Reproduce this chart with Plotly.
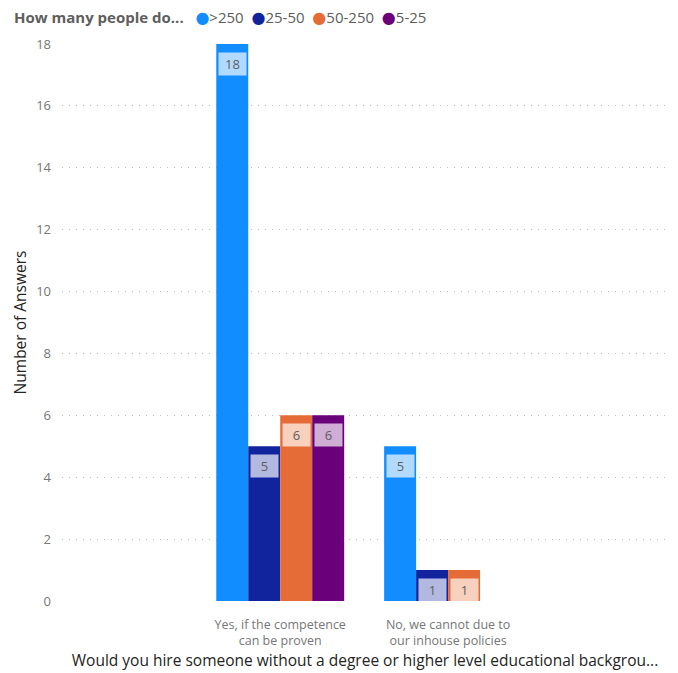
import plotly.graph_objects as go

categories = ["Yes, if the competence<br>can be proven", "No, we cannot due to<br>our inhouse policies"]
series_names = [">250", "25-50", "50-250", "5-25"]
series_values = [
    [18, 5],
    [5, 1],
    [6, 1],
    [6, None],
]
series_colors = ["#118DFF", "#12239E", "#E66C37", "#6B007B"]
y_ticks = [0, 2, 4, 6, 8, 10, 12, 14, 16, 18]
legend_title = "How many people do..."

BARGAP = 0.238
n_series = len(series_names)
bar_w = (1 - BARGAP) / n_series

fig = go.Figure()
for name, vals, col in zip(series_names, series_values, series_colors):
    fig.add_trace(go.Bar(
        x=categories, y=vals, name=name, marker=dict(color=col, line=dict(width=0)),
        showlegend=False, hoverinfo="skip",
    ))

# value labels in translucent boxes at the inner top of each bar
for k, vals in enumerate(series_values):
    for i, v in enumerate(vals):
        if v is None:
            continue
        fig.add_annotation(
            x=i + (k - (n_series - 1) / 2) * bar_w, y=v, xref="x", yref="y",
            text=str(v), showarrow=False, yanchor="top", yshift=-8,
            font=dict(family="Open Sans", size=13, color="#605E5C"),
            bgcolor="rgba(255,255,255,0.68)", borderpad=2, width=23,
        )

# compact legend row: bold title followed by coloured dots and series names
legend_items = "".join(
    f"  <span style='color:{c};font-family:DejaVu Sans;font-size:16px'>●</span>{n}"
    for n, c in zip(series_names, series_colors)
)
fig.add_annotation(
    xref="paper", yref="paper", x=-0.083, y=1.0485, xanchor="left", yanchor="middle",
    text=f"<b>{legend_title}</b> {legend_items}", showarrow=False, align="left",
    font=dict(family="Open Sans", size=15, color="#605E5C"),
)

fig.update_layout(
    width=678, height=673,
    margin=dict(l=62, r=10, t=44, b=72),
    plot_bgcolor="white", paper_bgcolor="white",
    barmode="group", bargap=BARGAP, bargroupgap=0,
    font=dict(family="Open Sans", color="#605E5C"),
    showlegend=False,
    xaxis=dict(
        type="category", range=[-1.3, 2.31], showgrid=False, showline=False,
        ticks="", tickfont=dict(size=12.5, color="#777777"), ticklabelstandoff=14,
        title=dict(text="Would you hire someone without a degree or higher level educational backgrou...",
                   font=dict(size=15.5, color="#252423"), standoff=4),
    ),
    yaxis=dict(
        range=[0, 18], tickvals=y_ticks, showgrid=True, gridcolor="#BEBEBE",
        griddash="1px,6px", gridwidth=1.4, zeroline=False, showline=False, ticks="",
        tickfont=dict(size=13, color="#777777"), ticklabelstandoff=10,
        title=dict(text="Number of Answers", font=dict(size=15.5, color="#252423"), standoff=5),
    ),
)

fig.write_html("out.html")
